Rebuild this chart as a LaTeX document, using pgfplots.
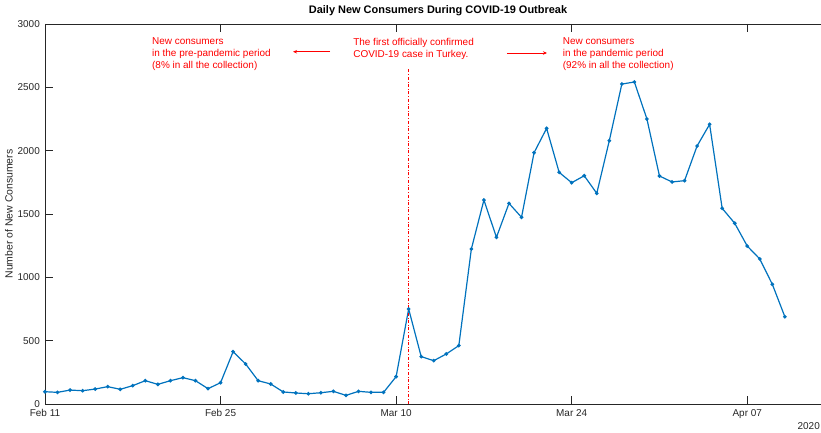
\documentclass[border=0pt]{standalone}
\usepackage{pgfplots}
\pgfplotsset{compat=1.18}
\usepackage{fontspec}
\setmainfont{Liberation Sans}
\usetikzlibrary{arrows.meta}
\definecolor{mblue}{RGB}{0,114,189}
\definecolor{axgray}{RGB}{38,38,38}
\definecolor{annred}{RGB}{255,0,0}
\begin{document}
\begin{tikzpicture}
\useasboundingbox (0,0) rectangle (821bp,433bp);
\begin{axis}[
 name=main,
 at={(45bp,29bp)}, anchor=south west,
 scale only axis, width=786bp, height=380bp,
 xmin=0, xmax=62.68, ymin=0, ymax=3000,
 xtick={0,14,28,42,56}, xticklabels={Feb 11,Feb 25,Mar 10,Mar 24,Apr 07},
 ytick={0,500,...,3000},
 tick align=inside, major tick length=8bp,
 axis line style={axgray, line width=0.6bp},
 tick style={axgray, line width=0.6bp},
 tick label style={font=\fontsize{10}{12}\selectfont, text=axgray},
 /pgf/number format/assume math mode=true,
 /pgf/number format/1000 sep={},
 yticklabel style={inner sep=0pt, xshift=-5bp},
 xticklabel style={inner sep=0pt, yshift=-5bp},
 title={Daily New Consumers During COVID-19 Outbreak},
 title style={font=\bfseries\fontsize{11}{13}\selectfont, at={(axis description cs:0.5,1)}, anchor=base, yshift=5bp, inner sep=0pt},
 ylabel={Number of New Consumers},
 ylabel style={font=\fontsize{10.5}{12}\selectfont, text=axgray, at={(axis description cs:-0.0458,0.5)}, anchor=center, inner sep=0pt},
]
\addplot[mblue, line width=1.2bp, mark=*, mark size=1.2bp] coordinates {
(0,97) (1,92) (2,110) (3,105) (4,118) (5,137) (6,116) (7,145) (8,184) (9,155)
(10,184) (11,208) (12,184) (13,121) (14,168) (15,413) (16,316) (17,184) (18,158) (19,95)
(20,87) (21,81) (22,89) (23,100) (24,68) (25,100) (26,92) (27,92) (28,216) (29,750)
(30,374) (31,342) (32,395) (33,461) (34,1224) (35,1610) (36,1316) (37,1584) (38,1474) (39,1984)
(40,2176) (41,1829) (42,1747) (43,1802) (44,1663) (45,2079) (46,2526) (47,2542) (48,2250) (49,1800)
(50,1753) (51,1763) (52,2037) (53,2208) (54,1545) (55,1427) (56,1247) (57,1145) (58,945) (59,689)
};
\draw[annred, dash dot, line width=0.9bp] (axis cs:29,0) -- (axis cs:29,2653);
\begin{scope}[every node/.style={font=\fontsize{10}{12}\selectfont, text=annred, inner sep=0pt, anchor=base west}]
\node at (axis cs:8.53,2842) {New consumers};
\node at (axis cs:8.53,2743) {in the pre-pandemic period};
\node at (axis cs:8.53,2645) {(8\% in all the collection)};
\node at (axis cs:24.57,2830) {The first officially confirmed};
\node at (axis cs:24.57,2732) {COVID-19 case in Turkey.};
\node at (axis cs:41.28,2842) {New consumers};
\node at (axis cs:41.28,2743) {in the pandemic period};
\node at (axis cs:41.28,2645) {(92\% in all the collection)};
\end{scope}
\draw[annred, line width=0.8bp, -{Stealth[length=4bp,width=3.5bp]}] (axis cs:22.73,2781) -- (axis cs:19.78,2781);
\draw[annred, line width=0.8bp, -{Stealth[length=4bp,width=3.5bp]}] (axis cs:36.84,2771) -- (axis cs:40.03,2771);
\end{axis}
\node[font=\fontsize{10}{12}\selectfont, text=axgray, inner sep=0pt, anchor=base east] at (820bp,4bp) {2020};
\end{tikzpicture}
\end{document}
